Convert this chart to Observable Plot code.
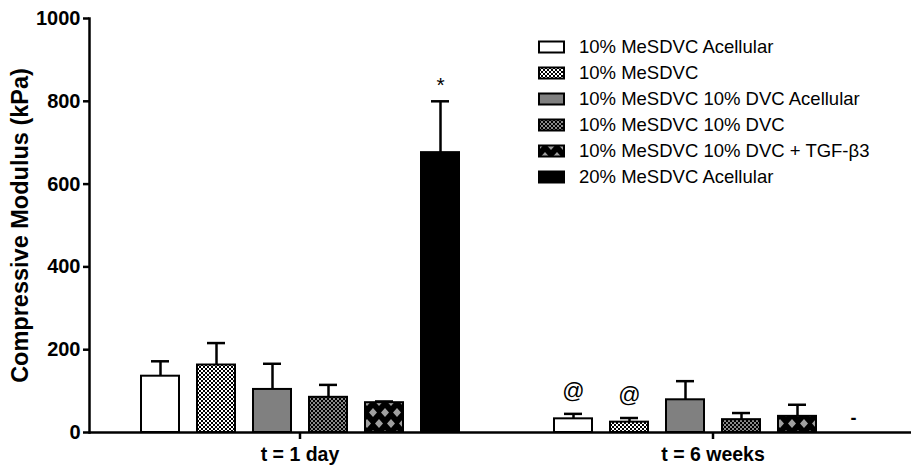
<!DOCTYPE html>
<html><head><meta charset="utf-8">
<script src="https://cdn.jsdelivr.net/npm/d3@7"></script>
<script src="https://cdn.jsdelivr.net/npm/@observablehq/plot@0.6"></script>
<style>
body{margin:0;overflow:hidden;background:#fff;}
#wrap{position:relative;width:911px;height:468px;overflow:hidden;}
#wrap svg{position:absolute;left:0;top:0;}
g[aria-label="y-axis tick label"]{font-size:20px;font-weight:bold;}
g[aria-label="y-axis label"]{font-size:23.5px;font-weight:bold;}
g[aria-label="fx-axis tick label"]{font-size:19.5px;font-weight:bold;}
</style></head><body><div id="wrap"></div>
<script>
const groups = ["t = 1 day", "t = 6 weeks"];
const series = [
  "10% MeSDVC Acellular",
  "10% MeSDVC",
  "10% MeSDVC 10% DVC Acellular",
  "10% MeSDVC 10% DVC",
  "10% MeSDVC 10% DVC + TGF-β3",
  "20% MeSDVC Acellular"
];
const fills = ["white", "url(#pChecker)", "#808080", "url(#pChecker2)", "url(#pDiamond)", "black"];
const meanDay1 = [136, 163, 104, 85, 72, 676];
const upperDay1 = [172, 216, 166, 115, 75, 800];
const meanWeek6 = [33, 25, 79, 31, 39, null];
const upperWeek6 = [45, 35, 124, 47, 67, null];
const yTicks = [0, 200, 400, 600, 800, 1000];
const yLabel = "Compressive Modulus (kPa)";
const noteGroups = [groups[1], groups[1], groups[0], groups[1]];
const noteSeries = [series[0], series[1], series[5], series[5]];
const noteTexts = ["@", "@", "*", "-"];

const means = [meanDay1, meanWeek6];
const uppers = [upperDay1, upperWeek6];
const rows = [];
groups.forEach((g, gi) => series.forEach((s, si) => {
  if (means[gi][si] != null) rows.push({group: g, series: s, mean: means[gi][si], upper: uppers[gi][si]});
}));
const notes = noteTexts.map((t, i) => {
  const gi = groups.indexOf(noteGroups[i]), si = series.indexOf(noteSeries[i]);
  const up = uppers[gi][si];
  return {group: noteGroups[i], series: noteSeries[i], text: t, y: up == null ? 0 : up};
});
const atNotes = notes.filter(d => d.text === "@");
const starNotes = notes.filter(d => d.text === "*");
const dashNotes = notes.filter(d => d.text === "-");

const font = "'Liberation Sans', Arial, Helvetica, sans-serif";

const chart = Plot.plot({
  width: 911, height: 468,
  marginLeft: 88, marginRight: 0, marginTop: 18, marginBottom: 36,
  style: {fontFamily: font, color: "black", background: "transparent", overflow: "visible"},
  fx: {domain: groups, range: [88, 915], paddingInner: 0, paddingOuter: 0, label: null, axis: null},
  x: {domain: series, paddingInner: 0.326, paddingOuter: 0.829, align: 0.545, axis: null},
  y: {domain: [0, 1000], axis: null},
  color: {type: "ordinal", domain: series, range: fills},
  marks: [
    Plot.axisY({ticks: yTicks, tickFormat: d => String(d), tickSize: 6, tickPadding: 3, strokeWidth: 2.5, label: null}),
    Plot.axisY({ticks: [], label: yLabel, labelAnchor: "center", labelArrow: "none", labelOffset: 78}),
    Plot.frame({anchor: "left", strokeWidth: 2.5, facetAnchor: "left"}),
    Plot.axisFx({anchor: "bottom", tickSize: 7, tickPadding: 8, strokeWidth: 2.5, dx: 4, label: null}),
    Plot.ruleX(rows, {fx: "group", x: "series", y1: "mean", y2: "upper", strokeWidth: 2.5}),
    Plot.tickY(rows, {fx: "group", x: "series", y: "upper", strokeWidth: 2.5, insetLeft: 10, insetRight: 10}),
    Plot.barY(rows, {fx: "group", x: "series", y: "mean", fill: "series", stroke: "black", strokeWidth: 2}),
    Plot.ruleY([0], {strokeWidth: 2.5}),
    Plot.text(atNotes, {fx: "group", x: "series", y: "y", text: "text", fontSize: 22, dy: -23, lineAnchor: "middle"}),
    Plot.text(starNotes, {fx: "group", x: "series", y: "y", text: "text", fontSize: 21, dy: -16, lineAnchor: "middle"}),
    Plot.text(dashNotes, {fx: "group", x: "series", y: "y", text: "text", fontSize: 18, fontWeight: "bold", dy: -14, lineAnchor: "middle"})
  ]
});

document.getElementById("wrap").appendChild(chart);

// legend + patterns
const leg = d3.create("svg").attr("width", 911).attr("height", 468)
  .style("font-family", font).style("pointer-events", "none");
const defs = leg.append("defs");
const p1 = defs.append("pattern").attr("id", "pChecker").attr("width", 4).attr("height", 4).attr("patternUnits", "userSpaceOnUse");
p1.append("rect").attr("width", 4).attr("height", 4).attr("fill", "white");
p1.append("rect").attr("width", 2).attr("height", 2).attr("fill", "black");
p1.append("rect").attr("x", 2).attr("y", 2).attr("width", 2).attr("height", 2).attr("fill", "black");
const p2 = defs.append("pattern").attr("id", "pChecker2").attr("width", 4).attr("height", 4).attr("patternUnits", "userSpaceOnUse");
p2.append("rect").attr("width", 4).attr("height", 4).attr("fill", "#8a8a8a");
p2.append("rect").attr("width", 2).attr("height", 2).attr("fill", "black");
p2.append("rect").attr("x", 2).attr("y", 2).attr("width", 2).attr("height", 2).attr("fill", "black");
const p3 = defs.append("pattern").attr("id", "pDiamond").attr("width", 12).attr("height", 22).attr("patternUnits", "userSpaceOnUse");
p3.append("rect").attr("width", 12).attr("height", 22).attr("fill", "black");
p3.append("path").attr("fill", "#a0a0a0")
  .attr("d", "M6,1L10,5.5L6,10L2,5.5Z M0,12L4,16.5L0,21L-4,16.5Z M12,12L16,16.5L12,21L8,16.5Z");

const lg = leg.append("g").attr("transform", "translate(539,47)");
series.forEach((s, i) => {
  const row = lg.append("g").attr("transform", `translate(0,${i * 26})`);
  row.append("rect").attr("x", 0).attr("y", -5.5).attr("width", 25).attr("height", 11)
    .attr("fill", fills[i]).attr("stroke", "black").attr("stroke-width", 2);
  row.append("text").attr("x", 40).attr("y", 0).attr("dy", "0.35em").attr("font-size", 18.5).text(s);
});
document.getElementById("wrap").appendChild(leg.node());
</script>
</body></html>
